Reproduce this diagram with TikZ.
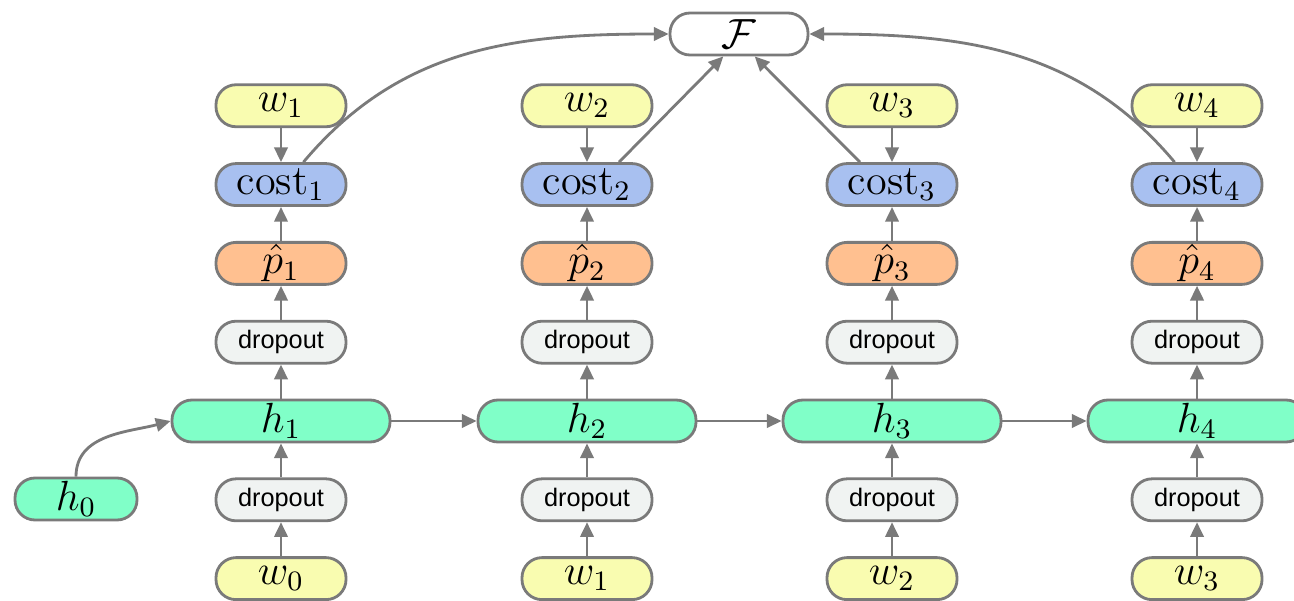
\documentclass[tikz,border=0pt]{standalone}
\usepackage{fontspec}
\setsansfont{Liberation Sans}
\usepackage{amsmath}
\usetikzlibrary{arrows.meta, positioning}
\definecolor{linegray}{RGB}{122,122,122}
\definecolor{wordyellow}{RGB}{249,252,176}
\definecolor{costblue}{RGB}{168,192,240}
\definecolor{predorange}{RGB}{255,192,144}
\definecolor{dropgray}{RGB}{240,243,242}
\definecolor{hidgreen}{RGB}{128,255,200}

\begin{document}
\begin{tikzpicture}[
  node distance=0.34cm,
  box/.style={draw=linegray, line width=0.8pt, rounded corners=0.2cm, minimum width=1.3cm, minimum height=0.42cm, inner sep=0pt, font=\fontsize{12}{14}\selectfont},
  word/.style={box, fill=wordyellow},
  cost/.style={box, fill=costblue},
  pred/.style={box, fill=predorange},
  drop/.style={box, fill=dropgray, font=\sffamily\fontsize{7.2}{8.6}\selectfont},
  hid/.style={box, fill=hidgreen, minimum width=2.18cm},
  objective/.style={box, fill=white, minimum width=1.38cm},
  link/.style={draw=linegray, line width=0.8pt, -{Triangle[length=4.2pt, width=3.8pt]}}
]
  \useasboundingbox (0,0) rectangle (12.94,6);

  \foreach \i/\x in {1/2.81, 2/5.87, 3/8.92, 4/11.97} {
    \pgfmathtruncatemacro{\j}{\i-1}
    \node[hid] (h\i) at (\x,1.79) {$h_{\i}$};
    \node[drop, below=of h\i] (dl\i) {dropout};
    \node[word, below=of dl\i] (win\i) {$w_{\j}$};
    \node[drop, above=of h\i] (du\i) {dropout};
    \node[pred, above=of du\i] (p\i) {$\hat{p}_{\i}$};
    \node[cost, above=of p\i] (c\i) {$\mathrm{cost}_{\i}$};
    \node[word, above=of c\i] (wout\i) {$w_{\i}$};

    \draw[link] (win\i) -- (dl\i);
    \draw[link] (dl\i) -- (h\i);
    \draw[link] (h\i) -- (du\i);
    \draw[link] (du\i) -- (p\i);
    \draw[link] (p\i) -- (c\i);
    \draw[link] (wout\i) -- (c\i);
  }

  \node[hid, minimum width=1.22cm] (h0) at (0.76,1.01) {$h_0$};
  \node[objective] (F) at (7.39,5.66) {$\mathcal{F}$};

  % recurrent connections
  \draw[link] (h0.north) to[out=90, in=195] (h1.west);
  \foreach \i/\k in {1/2, 2/3, 3/4}
    \draw[link] (h\i) -- (h\k);

  % costs into the objective
  \draw[link] (c1.45) to[out=50, in=180] (F.west);
  \draw[link] (c2.35) -- (F.235);
  \draw[link] (c3.145) -- (F.305);
  \draw[link] (c4.135) to[out=130, in=0] (F.east);
\end{tikzpicture}
\end{document}
